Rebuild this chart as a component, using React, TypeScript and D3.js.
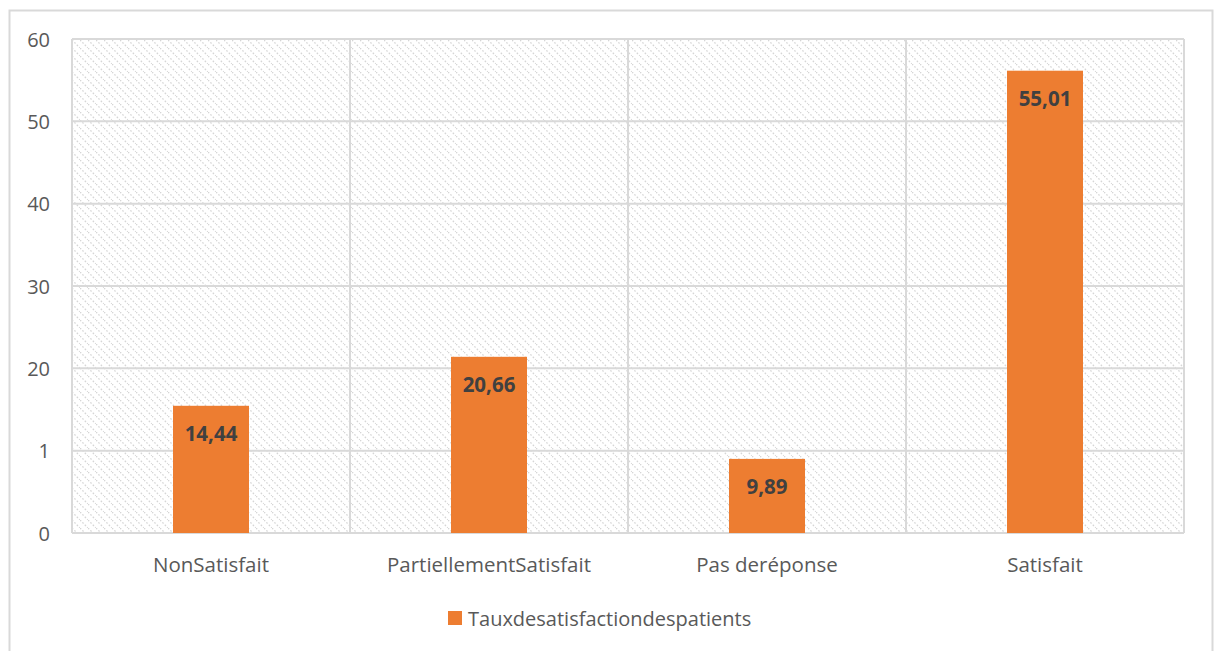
import React from "react";
import * as d3 from "d3";

const categories = ["NonSatisfait", "PartiellementSatisfait", "Pas deréponse", "Satisfait"];
const barValues = [15.45, 21.4, 9.0, 56.15];
const valueLabels = ["14,44", "20,66", "9,89", "55,01"];
const yTickValues = [0, 10, 20, 30, 40, 50, 60];
const yTickLabels = ["0", "1", "20", "30", "40", "50", "60"];
const seriesName = "Tauxdesatisfactiondespatients";

const W = 1215;
const H = 651;
const margin = { left: 72, top: 39, right: 1184, bottom: 533 };
const font = "'Open Sans', sans-serif";

export default function App() {
  const x = d3.scaleBand<string>().domain(categories).range([margin.left, margin.right]).paddingInner(0).paddingOuter(0);
  const y = d3.scaleLinear().domain([0, 60]).range([margin.bottom, margin.top]);
  const bw = x.bandwidth();
  const barW = 76;

  return (
    <svg width={W} height={H} style={{ position: "absolute", left: 0, top: 0 }} fontFamily={font}>
      <defs>
        <pattern id="hatch" width="8" height="8" patternUnits="userSpaceOnUse">
          <rect width="8" height="8" fill="#ffffff" />
          <path d="M0,0 L8,8" stroke="#d6d6d6" strokeWidth="1.3" strokeDasharray="1.6,1.8" />
          <path d="M-4,4 L4,12 M4,-4 L12,4" stroke="#ececec" strokeWidth="1" strokeDasharray="1.2,2.2" />
        </pattern>
      </defs>
      <rect x={0} y={0} width={W} height={H} fill="#ffffff" />
      <rect x={9.5} y={10.5} width={1203} height={660} fill="none" stroke="#d9d9d9" strokeWidth={2} />
      <rect x={margin.left} y={margin.top} width={margin.right - margin.left} height={margin.bottom - margin.top} fill="url(#hatch)" />
      {yTickValues.map((t) => (
        <line key={"g" + t} x1={margin.left} x2={margin.right} y1={y(t)} y2={y(t)} stroke="#d9d9d9" strokeWidth={2} />
      ))}
      {categories.map((c, i) => (
        <line key={"v" + i} x1={(x(c) as number)} x2={(x(c) as number)} y1={margin.top} y2={margin.bottom} stroke="#d9d9d9" strokeWidth={2} />
      ))}
      <line x1={margin.right} x2={margin.right} y1={margin.top} y2={margin.bottom} stroke="#d9d9d9" strokeWidth={2} />
      {yTickValues.map((t, i) => (
        <text key={"t" + t} x={50} y={y(t)} textAnchor="end" dominantBaseline="central" fontSize={20} fill="#595959">
          {yTickLabels[i]}
        </text>
      ))}
      {categories.map((c, i) => {
        const cx = (x(c) as number) + bw / 2;
        return (
          <g key={c}>
            <rect x={cx - barW / 2} y={y(barValues[i])} width={barW} height={margin.bottom - y(barValues[i])} fill="#ed7d31" />
            <text x={cx} y={y(barValues[i]) + 27} textAnchor="middle" dominantBaseline="central" fontSize={20.5} fontWeight="bold" fill="#404040">
              {valueLabels[i]}
            </text>
            <text x={cx} y={564} textAnchor="middle" dominantBaseline="central" fontSize={20.5} fill="#595959">
              {c}
            </text>
          </g>
        );
      })}
      <rect x={448} y={611} width={14} height={14} fill="#ed7d31" />
      <text x={468} y={618} dominantBaseline="central" fontSize={20} fill="#595959">
        {seriesName}
      </text>
    </svg>
  );
}
